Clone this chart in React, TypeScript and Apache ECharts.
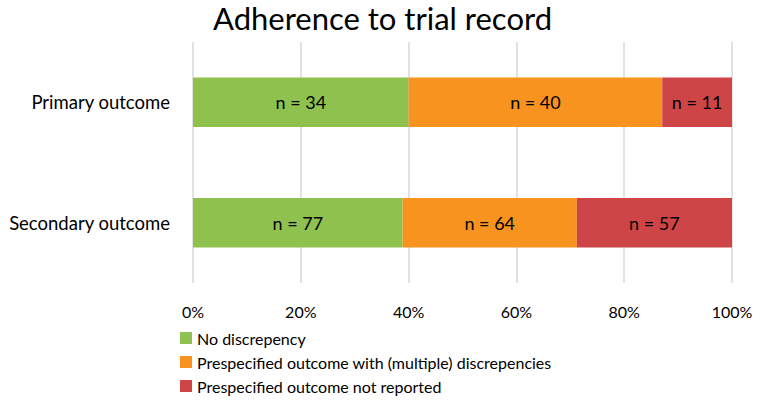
import React, { useEffect, useRef } from "react";
import * as echarts from "echarts";

const categories = ["Primary outcome", "Secondary outcome"];
const seriesNames = [
  "No discrepency",
  "Prespecified outcome with (multiple) discrepencies",
  "Prespecified outcome not reported",
];
const noDiscrepancy = [34, 77];
const withDiscrepancies = [40, 64];
const notReported = [11, 57];
const colors = ["#8FC14E", "#F8931F", "#CD4546"];
const tickLabels = ["0%", "20%", "40%", "60%", "80%", "100%"];

const FONT = "Lato, 'Open Sans', sans-serif";

export default function App() {
  const ref = useRef<HTMLDivElement>(null);
  useEffect(() => {
    if (!ref.current) return;
    const chart = echarts.init(ref.current, undefined, { renderer: "svg" });
    const counts = [noDiscrepancy, withDiscrepancies, notReported];
    const totals = categories.map((_, i) => counts.reduce((s, arr) => s + arr[i], 0));
    chart.setOption({
      animation: false,
      textStyle: { fontFamily: FONT },
      title: {
        text: "Adherence to trial record",
        left: "center",
        top: -3,
        textStyle: { fontSize: 31, fontWeight: "normal", color: "#000", fontFamily: FONT },
      },
      legend: {
        orient: "vertical",
        left: 175,
        top: 325,
        itemWidth: 12,
        itemHeight: 12,
        itemGap: 8,
        icon: "rect",
        data: seriesNames,
        textStyle: { fontSize: 16, color: "#000", fontFamily: FONT },
      },
      grid: { left: 193, right: 33, top: 42, bottom: 123 },
      xAxis: {
        type: "value",
        min: 0,
        max: 100,
        interval: 20,
        axisLine: { show: false },
        axisTick: { show: false },
        splitLine: { lineStyle: { color: "#D9D9D9", width: 1.5 } },
        axisLabel: {
          fontSize: 16,
          color: "#000",
          margin: 20,
          fontFamily: FONT,
          formatter: (v: number) => tickLabels[Math.round(v / 20)] ?? "",
        },
      },
      yAxis: {
        type: "category",
        inverse: true,
        data: categories,
        axisLine: { show: false },
        axisTick: { show: false },
        axisLabel: { fontSize: 18.5, color: "#000", margin: 23, fontFamily: FONT },
      },
      series: counts.map((arr, si) => ({
        name: seriesNames[si],
        type: "bar",
        stack: "total",
        barWidth: "41%",
        itemStyle: { color: colors[si] },
        label: {
          show: true,
          position: "inside",
          color: "#000",
          fontSize: 18,
          fontFamily: FONT,
          formatter: (p: any) => "n = " + arr[p.dataIndex],
        },
        data: arr.map((v, i) => (v / totals[i]) * 100),
      })),
    });
    return () => chart.dispose();
  }, []);
  return (
    <div
      ref={ref}
      style={{ position: "fixed", left: 0, top: 0, width: 765, height: 406, background: "#fff" }}
    />
  );
}
